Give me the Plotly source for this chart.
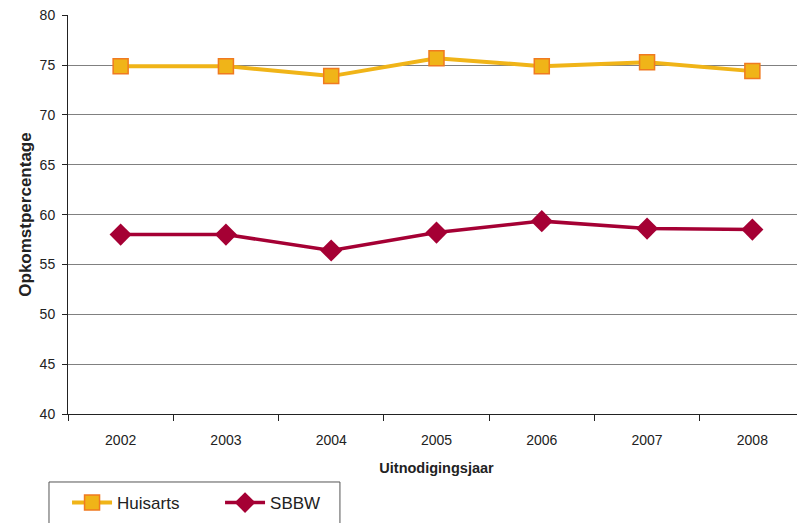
import plotly.graph_objects as go

years = ["2002", "2003", "2004", "2005", "2006", "2007", "2008"]
huisarts = [74.9, 74.9, 73.9, 75.7, 74.9, 75.3, 74.4]
sbbw = [58.0, 58.0, 56.4, 58.2, 59.35, 58.6, 58.5]
y_ticks = [40, 45, 50, 55, 60, 65, 70, 75, 80]

fig = go.Figure()
fig.add_trace(go.Scatter(
    x=years, y=huisarts, name="Huisarts", mode="lines+markers",
    line=dict(color="#F0B418", width=4),
    marker=dict(symbol="square", size=15, color="#F0B418",
                line=dict(color="#F07A20", width=1.5)),
))
fig.add_trace(go.Scatter(
    x=years, y=sbbw, name="SBBW", mode="lines+markers",
    line=dict(color="#A50034", width=3.5),
    marker=dict(symbol="diamond", size=17, color="#A50034",
                line=dict(color="#A50034", width=0)),
))

font = "Liberation Sans, Arial, sans-serif"
fig.update_layout(
    width=805, height=523,
    margin=dict(l=60, r=8, t=7, b=117, autoexpand=False),
    paper_bgcolor="white", plot_bgcolor="white",
    font=dict(family=font, color="#222222", size=14),
    showlegend=True,
    legend=dict(
        orientation="h", x=-0.0013, y=-0.223, xanchor="left", yanchor="middle",
        borderwidth=0, bgcolor="rgba(0,0,0,0)",
        font=dict(size=17, family=font, color="#222222"),
        entrywidth=98, itemwidth=40,
    ),
    shapes=[dict(
        type="rect", xref="paper", yref="paper",
        x0=-0.0258, x1=0.369, y0=-0.1704, y1=-0.30,
        line=dict(color="#555555", width=1), fillcolor="rgba(0,0,0,0)",
    )],
    xaxis=dict(
        type="category", showline=True, linecolor="#222222", linewidth=1,
        ticks="outside", tickson="boundaries", ticklen=6, tickcolor="#222222",
        showgrid=False, range=[-0.5, 6.5], automargin=False,
        tickfont=dict(size=14), ticklabelstandoff=13,
        title=dict(text="<b>Uitnodigingsjaar</b>", font=dict(size=14.5), standoff=16),
    ),
    yaxis=dict(
        range=[40, 80.03], tickvals=y_ticks, showline=True, linecolor="#222222",
        linewidth=1, ticks="outside", ticklen=5, tickcolor="#222222",
        showgrid=True, gridcolor="#808080", gridwidth=1, automargin=False,
        tickfont=dict(size=14), ticklabelstandoff=4, ticklabeloverflow="allow",
        title=dict(text="<b>Opkomstpercentage</b>", font=dict(size=17), standoff=3),
        zeroline=False,
    ),
)
fig.write_html("out.html")
